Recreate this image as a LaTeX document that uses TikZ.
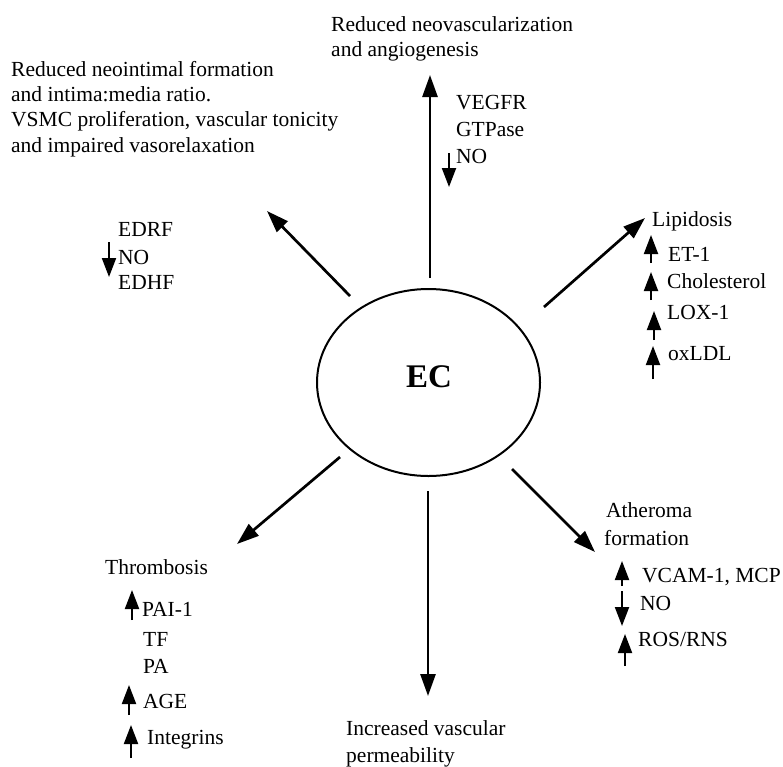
\documentclass[tikz,border=0pt]{standalone}
\usepackage{fontspec}
\setmainfont{Liberation Serif}
\usetikzlibrary{arrows.meta,shapes.geometric}
\begin{document}
\begin{tikzpicture}[x=1pt,y=-1pt,
  lbl/.style={inner sep=0pt,anchor=base west,font=\fontsize{21.5}{26}\selectfont},
  bigarrow/.style={line width=2.7pt,-{Triangle[length=22pt,width=15pt]}},
  smallarr/.style={line width=2pt,-{Triangle[length=19pt,width=14pt]}},
  cell/.style={draw,line width=2pt,ellipse,minimum width=223pt,minimum height=187pt,inner sep=0pt}]
\useasboundingbox (0,0) rectangle (783,766);
% central cell
\node[cell] (ec) at (428.5,382.5) {};
\node[font=\fontsize{33}{36}\selectfont\bfseries] (ectxt) at (429,377) {EC};
% main arrows
\coordinate (s1) at (430,278); \coordinate (e1) at (430,75);
\coordinate (s2) at (350,296); \coordinate (e2) at (267,211);
\coordinate (s3) at (544,307); \coordinate (e3) at (645,218);
\coordinate (s4) at (340,457); \coordinate (e4) at (237,544);
\coordinate (s5) at (428,491); \coordinate (e5) at (428,696);
\coordinate (s6) at (512,469); \coordinate (e6) at (595,552);
\draw[bigarrow] (s1) -- (e1);
\draw[bigarrow] (s2) -- (e2);
\draw[bigarrow] (s3) -- (e3);
\draw[bigarrow] (s4) -- (e4);
\draw[bigarrow] (s5) -- (e5);
\draw[bigarrow] (s6) -- (e6);
% top left
\node[lbl] (tl1) at (11,76.5) {Reduced neointimal formation};
\node[lbl] (tl2) at (11,101.5) {and intima:media ratio.};
\node[lbl] (tl3) at (11,126.5) {VSMC proliferation, vascular tonicity};
\node[lbl] (tl4) at (11,152.5) {and impaired vasorelaxation};
% top centre
\node[lbl] (tc1) at (331,31.5) {Reduced neovascularization};
\node[lbl] (tc2) at (331,56.5) {and angiogenesis};
\node[lbl] (vegfr) at (456,109.5) {VEGFR};
\node[lbl] (gtp) at (456,136.5) {GTPase};
\node[lbl] (no1) at (456,163.5) {NO};
\coordinate (a1s) at (449,153); \coordinate (a1e) at (449,187);
\draw[smallarr] (a1s) -- (a1e);
% EDRF
\node[lbl] (edrf) at (118,236.5) {EDRF};
\node[lbl] (no2) at (118,264.5) {NO};
\node[lbl] (edhf) at (118,289.5) {EDHF};
\coordinate (a2s) at (109,242); \coordinate (a2e) at (109,277);
\draw[smallarr] (a2s) -- (a2e);
% Lipidosis
\node[lbl] (lip) at (652,226.5) {Lipidosis};
\node[lbl] (et1) at (668,261.5) {ET-1};
\node[lbl] (chol) at (667,288.5) {Cholesterol};
\node[lbl] (lox) at (667,319.5) {LOX-1};
\node[lbl] (ox) at (668,360.5) {oxLDL};
\coordinate (b1s) at (651,263); \coordinate (b1e) at (651,235);
\coordinate (b2s) at (651,300); \coordinate (b2e) at (651,272);
\coordinate (b3s) at (654,340); \coordinate (b3e) at (654,311);
\coordinate (b4s) at (653,379); \coordinate (b4e) at (653,346);
\draw[smallarr] (b1s) -- (b1e);
\draw[smallarr] (b2s) -- (b2e);
\draw[smallarr] (b3s) -- (b3e);
\draw[smallarr] (b4s) -- (b4e);
% Thrombosis
\node[lbl] (thr) at (105,574.5) {Thrombosis};
\node[lbl] (pai) at (142,616.5) {PAI-1};
\node[lbl] (tf) at (143,646.5) {TF};
\node[lbl] (pa) at (143,673.5) {PA};
\node[lbl] (age) at (143,708.5) {AGE};
\node[lbl] (integ) at (147,744.5) {Integrins};
\coordinate (c1s) at (132,620); \coordinate (c1e) at (132,590);
\coordinate (c2s) at (129,715); \coordinate (c2e) at (129,685);
\coordinate (c3s) at (131,758); \coordinate (c3e) at (131,725);
\draw[smallarr] (c1s) -- (c1e);
\draw[smallarr] (c2s) -- (c2e);
\draw[smallarr] (c3s) -- (c3e);
% permeability
\node[lbl] (perm1) at (346,735.5) {Increased vascular};
\node[lbl] (perm2) at (346,762) {permeability};
% Atheroma
\node[lbl] (ath1) at (606,517.5) {Atheroma};
\node[lbl] (ath2) at (604,545.5) {formation};
\node[lbl] (vcam) at (642,582.5) {VCAM-1, MCP};
\node[lbl] (no3) at (640,610.5) {NO};
\node[lbl] (ros) at (638,646.5) {ROS/RNS};
\coordinate (d1s) at (622,586); \coordinate (d1e) at (622,561);
\coordinate (d2s) at (622,591); \coordinate (d2e) at (622,626);
\coordinate (d3s) at (625,666); \coordinate (d3e) at (625,634);
\draw[smallarr] (d1s) -- (d1e);
\draw[smallarr] (d2s) -- (d2e);
\draw[smallarr] (d3s) -- (d3e);
\end{tikzpicture}
\end{document}
